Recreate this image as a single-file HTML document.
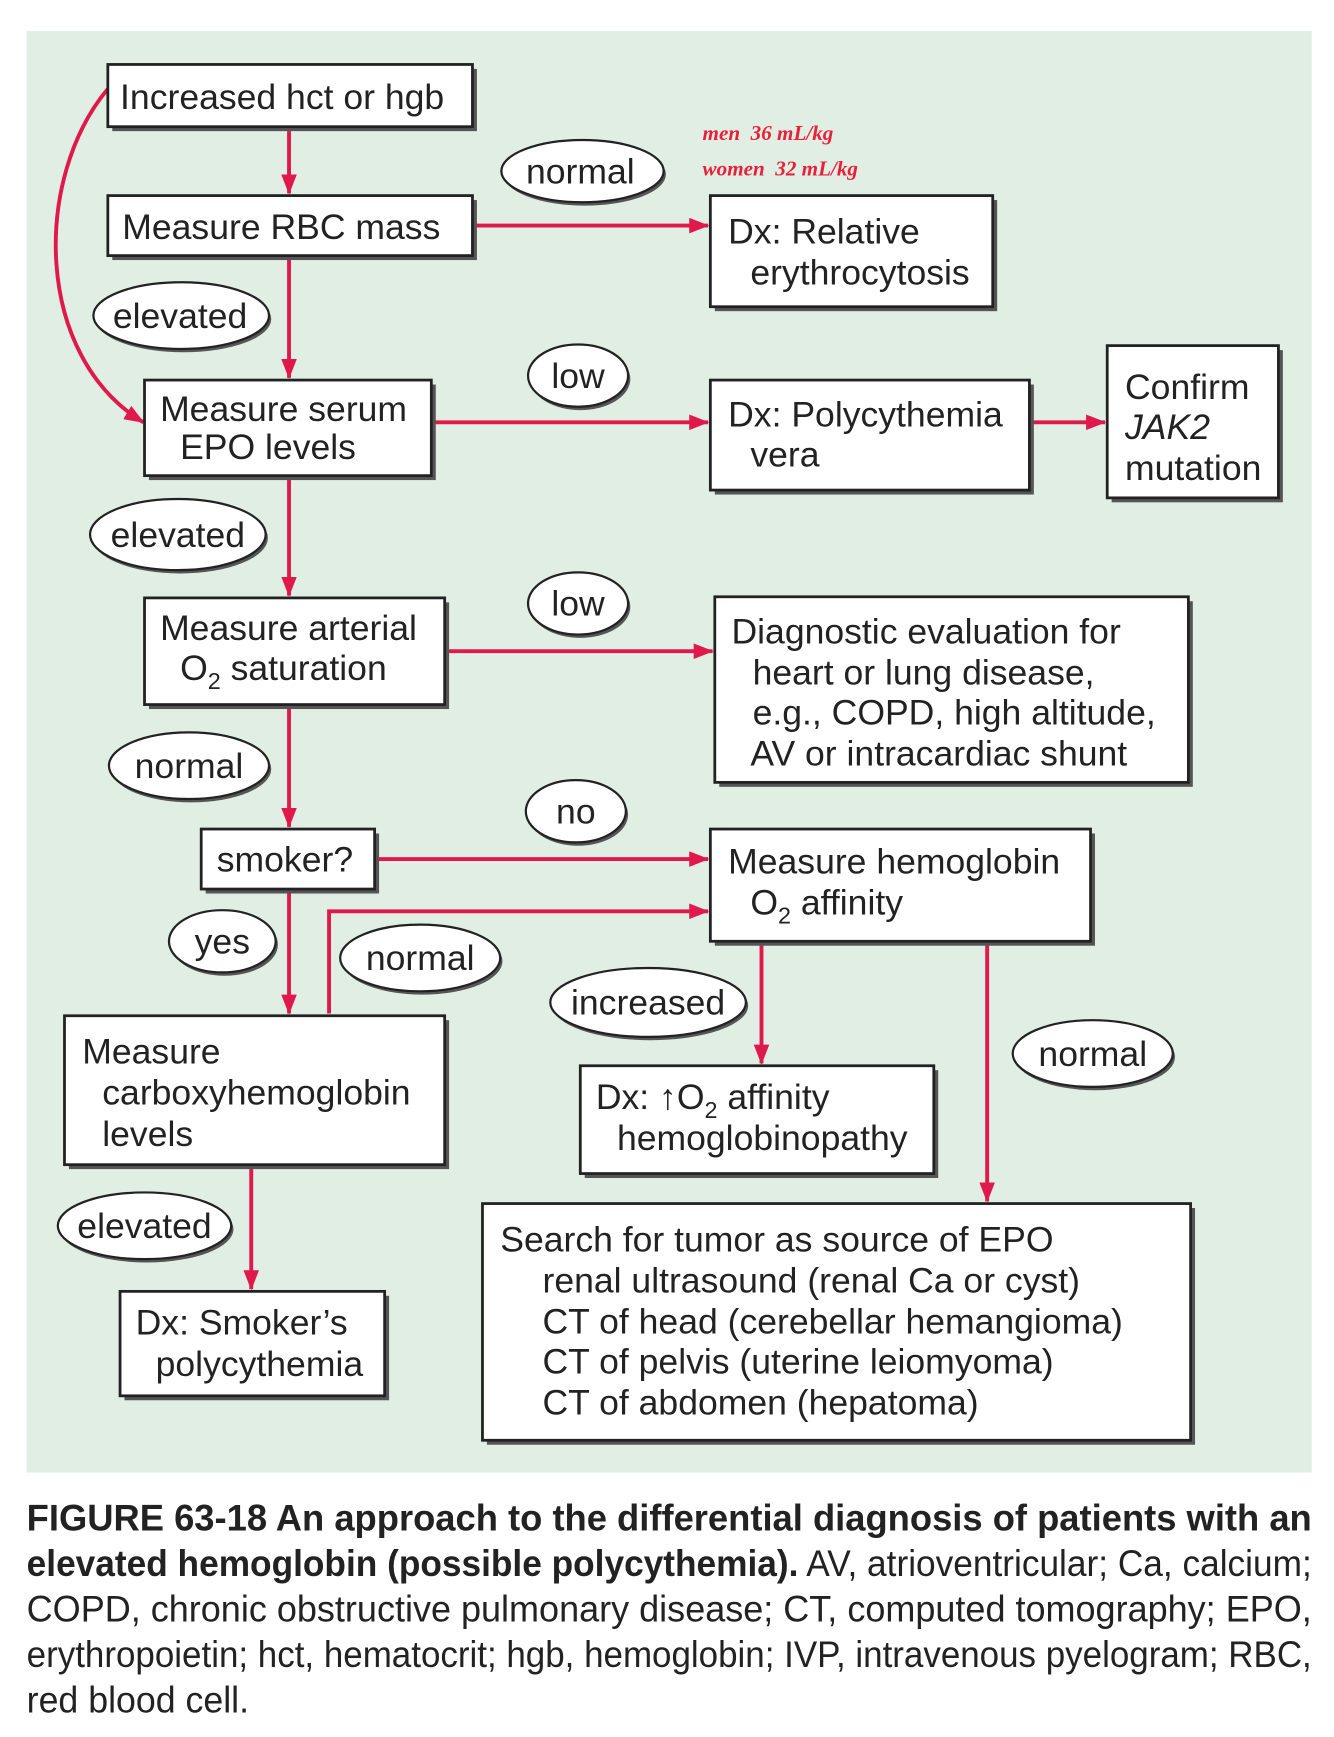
<!DOCTYPE html>
<html><head><meta charset="utf-8"><style>html,body{margin:0;padding:0;background:#fff}svg{display:block}</style></head>
<body>
<svg width="1334" height="1737" viewBox="0 0 1200 1563" preserveAspectRatio="none" xmlns="http://www.w3.org/2000/svg" font-family="Liberation Sans, Arial, sans-serif">
<defs>
<marker id="a" markerWidth="18" markerHeight="14" refX="17" refY="7" orient="auto" markerUnits="userSpaceOnUse" viewBox="0 0 18 14"><path d="M0,0 L18,7 L0,14 z" fill="#e0194d"/></marker>
</defs>
<rect x="0" y="0" width="1200" height="1563" fill="#fff"/>
<rect x="24" y="28" width="1156" height="1297" fill="#e1eee4"/>
<g stroke="#e0194d" stroke-width="3.5" fill="none">
<path d="M260 116 V174" marker-end="url(#a)"/>
<path d="M260 232 V340" marker-end="url(#a)"/>
<path d="M260 430 V536" marker-end="url(#a)"/>
<path d="M260 636 V744" marker-end="url(#a)"/>
<path d="M260 802 V912" marker-end="url(#a)"/>
<path d="M226 1050 V1160" marker-end="url(#a)"/>
<path d="M427 203 H637" marker-end="url(#a)"/>
<path d="M390 380 H637" marker-end="url(#a)"/>
<path d="M928 380 H994" marker-end="url(#a)"/>
<path d="M402 586 H641" marker-end="url(#a)"/>
<path d="M339 773 H637" marker-end="url(#a)"/>
<path d="M296 912 V820 H637" marker-end="url(#a)"/>
<path d="M685 849 V957" marker-end="url(#a)"/>
<path d="M888 849 V1081" marker-end="url(#a)"/>
<path d="M97 80 C30 160, 30 320, 129 380" marker-end="url(#a)"/>
</g>
<g stroke="#222" stroke-width="2.5" fill="#fff">
<g fill="#555" stroke="none">
<rect x="101" y="62" width="328" height="56"/><rect x="101" y="180" width="328" height="54"/>
<rect x="134" y="346" width="258" height="86"/><rect x="134" y="542" width="270" height="96"/>
<rect x="185" y="750" width="156" height="54"/><rect x="62" y="918" width="342" height="134"/>
<rect x="112" y="1166" width="238" height="94"/><rect x="643" y="180" width="254" height="100"/>
<rect x="643" y="346" width="287" height="99"/><rect x="1000" y="315" width="154" height="137"/>
<rect x="647" y="541" width="426" height="167"/><rect x="643" y="750" width="342" height="101"/>
<rect x="526" y="963" width="318" height="97"/><rect x="438" y="1087" width="637" height="213"/>
</g>
<rect x="97" y="58" width="328" height="56"/><rect x="97" y="176" width="328" height="54"/>
<rect x="130" y="342" width="258" height="86"/><rect x="130" y="538" width="270" height="96"/>
<rect x="181" y="746" width="156" height="54"/><rect x="58" y="914" width="342" height="134"/>
<rect x="108" y="1162" width="238" height="94"/><rect x="639" y="176" width="254" height="100"/>
<rect x="639" y="342" width="287" height="99"/><rect x="996" y="311" width="154" height="137"/>
<rect x="643" y="537" width="426" height="167"/><rect x="639" y="746" width="342" height="101"/>
<rect x="522" y="959" width="318" height="97"/><rect x="434" y="1083" width="637" height="213"/>
<g stroke-width="2">
<ellipse cx="526" cy="157" rx="73" ry="28" fill="#555" stroke="none"/><ellipse cx="524" cy="154" rx="73" ry="28"/>
<ellipse cx="165" cy="287" rx="79" ry="30" fill="#555" stroke="none"/><ellipse cx="163" cy="284" rx="79" ry="30"/>
<ellipse cx="162" cy="484" rx="79" ry="32" fill="#555" stroke="none"/><ellipse cx="160" cy="481" rx="79" ry="32"/>
<ellipse cx="522" cy="341" rx="45" ry="28" fill="#555" stroke="none"/><ellipse cx="520" cy="338" rx="45" ry="28"/>
<ellipse cx="522" cy="546" rx="45" ry="28" fill="#555" stroke="none"/><ellipse cx="520" cy="543" rx="45" ry="28"/>
<ellipse cx="172" cy="692" rx="72" ry="30" fill="#555" stroke="none"/><ellipse cx="170" cy="689" rx="72" ry="30"/>
<ellipse cx="520" cy="733" rx="45" ry="28" fill="#555" stroke="none"/><ellipse cx="518" cy="730" rx="45" ry="28"/>
<ellipse cx="202" cy="850" rx="48" ry="28" fill="#555" stroke="none"/><ellipse cx="200" cy="847" rx="48" ry="28"/>
<ellipse cx="380" cy="865" rx="72" ry="30" fill="#555" stroke="none"/><ellipse cx="378" cy="862" rx="72" ry="30"/>
<ellipse cx="585" cy="905" rx="88" ry="31" fill="#555" stroke="none"/><ellipse cx="583" cy="902" rx="88" ry="31"/>
<ellipse cx="985" cy="951" rx="72" ry="30" fill="#555" stroke="none"/><ellipse cx="983" cy="948" rx="72" ry="30"/>
<ellipse cx="132" cy="1106" rx="78" ry="30" fill="#555" stroke="none"/><ellipse cx="130" cy="1103" rx="78" ry="30"/>
</g>
</g>
<g fill="#222" font-size="32">
<text x="108" y="98">Increased hct or hgb</text>
<text x="110" y="215">Measure RBC mass</text>
<text x="144" y="379">Measure serum</text><text x="162" y="413">EPO levels</text>
<text x="144" y="576">Measure arterial</text><text x="162" y="612">O<tspan font-size="21" dy="8">2</tspan><tspan dy="-8"> saturation</tspan></text>
<text x="195" y="784">smoker?</text>
<text x="74" y="957">Measure</text><text x="92" y="994">carboxyhemoglobin</text><text x="92" y="1031">levels</text>
<text x="122" y="1201">Dx: Smoker’s</text><text x="140" y="1238">polycythemia</text>
<text x="655" y="219">Dx: Relative</text><text x="675" y="256">erythrocytosis</text>
<text x="655" y="384">Dx: Polycythemia</text><text x="675" y="420">vera</text>
<text x="1012" y="359">Confirm</text><text x="1012" y="395" font-style="italic">JAK2</text><text x="1012" y="432">mutation</text>
<text x="658" y="579">Diagnostic evaluation for</text><text x="677" y="616">heart or lung disease,</text><text x="677" y="652">e.g., COPD, high altitude,</text><text x="675" y="689">AV or intracardiac shunt</text>
<text x="655" y="786">Measure hemoglobin</text><text x="675" y="823">O<tspan font-size="21" dy="8">2</tspan><tspan dy="-8"> affinity</tspan></text>
<text x="536" y="998">Dx: <tspan font-weight="bold">↑</tspan>O<tspan font-size="21" dy="8">2</tspan><tspan dy="-8"> affinity</tspan></text><text x="555" y="1035">hemoglobinopathy</text>
<text x="450" y="1126">Search for tumor as source of EPO</text>
<text x="488" y="1163">renal ultrasound (renal Ca or cyst)</text>
<text x="488" y="1200">CT of head (cerebellar hemangioma)</text>
<text x="488" y="1236">CT of pelvis (uterine leiomyoma)</text>
<text x="488" y="1273">CT of abdomen (hepatoma)</text>
<g text-anchor="middle">
<text x="522" y="165">normal</text><text x="162" y="295">elevated</text><text x="160" y="492">elevated</text>
<text x="520" y="349">low</text><text x="520" y="554">low</text><text x="170" y="700">normal</text>
<text x="518" y="741">no</text><text x="200" y="858">yes</text><text x="378" y="873">normal</text>
<text x="583" y="913">increased</text><text x="983" y="959">normal</text><text x="130" y="1114">elevated</text>
</g>
</g>
<g fill="#e8203a" font-size="19" font-style="italic" font-weight="bold" font-family="Liberation Serif, serif">
<text x="632" y="126">men&#160;&#160;36 mL/kg</text>
<text x="632" y="158">women&#160;&#160;32 mL/kg</text>
</g>
<g fill="#222" font-size="33" font-family="Liberation Sans Narrow, Liberation Sans, sans-serif">
<text x="24" y="1377" textLength="1156" lengthAdjust="spacingAndGlyphs" font-weight="bold">FIGURE 63-18 An approach to the differential diagnosis of patients with an</text>
<text x="24" y="1418" textLength="1156" lengthAdjust="spacingAndGlyphs"><tspan font-weight="bold">elevated hemoglobin (possible polycythemia).</tspan> AV, atrioventricular; Ca, calcium;</text>
<text x="24" y="1459" textLength="1156" lengthAdjust="spacingAndGlyphs">COPD, chronic obstructive pulmonary disease; CT, computed tomography; EPO,</text>
<text x="24" y="1500" textLength="1156" lengthAdjust="spacingAndGlyphs">erythropoietin; hct, hematocrit; hgb, hemoglobin; IVP, intravenous pyelogram; RBC,</text>
<text x="24" y="1541" textLength="200" lengthAdjust="spacingAndGlyphs">red blood cell.</text>
</g>
</svg>
</body></html>
